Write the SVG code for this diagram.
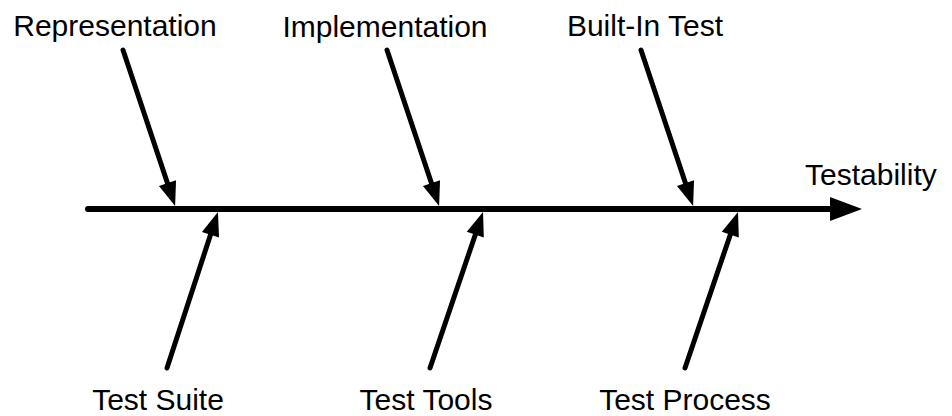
<svg xmlns="http://www.w3.org/2000/svg" width="952" height="416" viewBox="0 0 952 416">
  <style>
    .label { font-family: "Liberation Sans", Arial, Helvetica, sans-serif; font-size: 30px; fill: #000; }
    .bone { stroke: #000; stroke-width: 5; stroke-linecap: round; fill: none; }
    .spine { stroke: #000; stroke-width: 6; stroke-linecap: round; fill: none; }
  </style>
  <defs>
    <marker id="head" markerUnits="userSpaceOnUse" orient="auto" refX="0" refY="0" markerWidth="30" markerHeight="24" viewBox="0 -12 30 24" overflow="visible">
      <path d="M0,-9 L24,0 L0,9 Z" fill="#000"/>
    </marker>
  </defs>

  <rect width="952" height="416" fill="#fff"/>

  <!-- connectors: spine and cause branches -->
  <g id="connectors">
    <line class="spine" x1="88" y1="209" x2="832" y2="209"/>
    <polygon points="830,197 862,209 830,221" fill="#000"/>

    <line class="bone" x1="123" y1="50" x2="167.5" y2="183.2" marker-end="url(#head)"/>
    <line class="bone" x1="387" y1="50" x2="431.5" y2="183.2" marker-end="url(#head)"/>
    <line class="bone" x1="641" y1="50" x2="685.5" y2="183.2" marker-end="url(#head)"/>

    <line class="bone" x1="167" y1="368" x2="210.5" y2="234.8" marker-end="url(#head)"/>
    <line class="bone" x1="430" y1="368" x2="475.3" y2="234.7" marker-end="url(#head)"/>
    <line class="bone" x1="685" y1="368" x2="730.3" y2="234.7" marker-end="url(#head)"/>
  </g>

  <!-- effect -->
  <g id="testability">
    <text class="label" x="805" y="185">Testability</text>
  </g>

  <!-- upper causes -->
  <g id="representation">
    <text class="label" x="115" y="36" text-anchor="middle">Representation</text>
  </g>
  <g id="implementation">
    <text class="label" x="385" y="37" text-anchor="middle">Implementation</text>
  </g>
  <g id="built-in-test">
    <text class="label" x="645" y="36" text-anchor="middle">Built-In Test</text>
  </g>

  <!-- lower causes -->
  <g id="test-suite">
    <text class="label" x="158" y="410" text-anchor="middle">Test Suite</text>
  </g>
  <g id="test-tools">
    <text class="label" x="426" y="410" text-anchor="middle">Test Tools</text>
  </g>
  <g id="test-process">
    <text class="label" x="685" y="410" text-anchor="middle">Test Process</text>
  </g>
</svg>
